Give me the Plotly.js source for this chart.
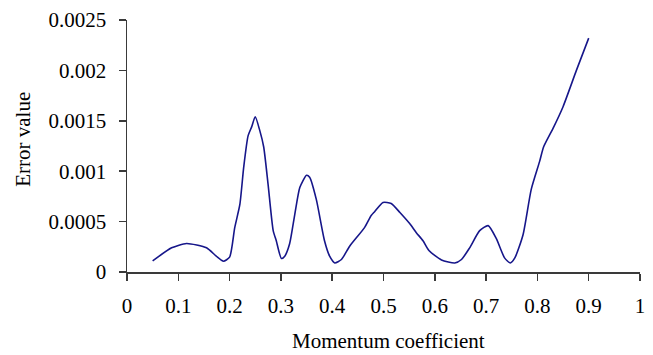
<!DOCTYPE html>
<html>
<head>
<meta charset="utf-8">
<script src="https://cdn.plot.ly/plotly-3.0.1.min.js"></script>
<style>
  html, body { margin: 0; padding: 0; background: #ffffff; }
  #chart { width: 653px; height: 355px; }
</style>
</head>
<body>
<div id="chart"></div>
<script>
// Momentum coefficient (x) and error value (y)
const momentum = [0.05, 0.087, 0.116, 0.155, 0.174, 0.188, 0.2, 0.21, 0.22, 0.2275, 0.236, 0.243, 0.25, 0.259, 0.2665, 0.275, 0.285, 0.291, 0.301, 0.3075, 0.317, 0.327, 0.337, 0.35, 0.356, 0.369, 0.385, 0.395, 0.405, 0.418, 0.434, 0.463, 0.476, 0.483, 0.499, 0.515, 0.532, 0.551, 0.564, 0.577, 0.589, 0.613, 0.639, 0.652, 0.668, 0.6875, 0.704, 0.72, 0.736, 0.747, 0.756, 0.772, 0.788, 0.8045, 0.812, 0.83, 0.85, 0.876, 0.9];
const errorValue = [0.00011, 0.00024, 0.000283, 0.00024, 0.000157, 0.000107, 0.000147, 0.00044, 0.00067, 0.00104, 0.00135, 0.00144, 0.00154, 0.0014, 0.00124, 0.00087, 0.00041, 0.00031, 0.000134, 0.000157, 0.00028, 0.00057, 0.00084, 0.00096, 0.00094, 0.00072, 0.00031, 0.000157, 0.00009, 0.000124, 0.000256, 0.00044, 0.00056, 0.0006, 0.00069, 0.00068, 0.00059, 0.00048, 0.00039, 0.00031, 0.00021, 0.00012, 0.00009, 0.000124, 0.00024, 0.00041, 0.00046, 0.00033, 0.00014, 0.00009, 0.00014, 0.00037, 0.00082, 0.0011, 0.00124, 0.00142, 0.00164, 0.002, 0.00232];

const xTickVals = [0, 0.1, 0.2, 0.3, 0.4, 0.5, 0.6, 0.7, 0.8, 0.9, 1];
const xTickText = ["0", "0.1", "0.2", "0.3", "0.4", "0.5", "0.6", "0.7", "0.8", "0.9", "1"];
const yTickVals = [0, 0.0005, 0.001, 0.0015, 0.002, 0.0025];
const yTickText = ["0", "0.0005", "0.001", "0.0015", "0.002", "0.0025"];

const xTitle = "Momentum coefficient";
const yTitle = "Error value";

const FONT = "'Liberation Serif', 'Times New Roman', 'DejaVu Serif', serif";
const AXIS_COLOR = "#3a3a3a";

const trace = {
  x: momentum,
  y: errorValue,
  type: "scatter",
  mode: "lines",
  line: { color: "#16168a", width: 1.6, shape: "spline", smoothing: 0.6 },
  hoverinfo: "x+y",
  showlegend: false
};

const layout = {
  width: 653,
  height: 355,
  margin: { l: 127, r: 13, t: 20, b: 83 },
  paper_bgcolor: "#ffffff",
  plot_bgcolor: "#ffffff",
  font: { family: FONT, size: 21, color: "#000000" },
  showlegend: false,
  xaxis: {
    range: [0, 1],
    tickmode: "array",
    tickvals: xTickVals,
    ticktext: xTickText,
    ticks: "outside",
    ticklen: 7,
    tickwidth: 1.5,
    tickcolor: AXIS_COLOR,
    ticklabelstandoff: 7,
    showline: true,
    linecolor: AXIS_COLOR,
    linewidth: 1.5,
    showgrid: false,
    zeroline: false,
    tickfont: { family: FONT, size: 21, color: "#000000" },
    fixedrange: true
  },
  yaxis: {
    range: [0, 0.0025],
    tickmode: "array",
    tickvals: yTickVals,
    ticktext: yTickText,
    ticks: "outside",
    ticklen: 7,
    tickwidth: 1.5,
    tickcolor: AXIS_COLOR,
    ticklabelstandoff: 8,
    showline: true,
    linecolor: AXIS_COLOR,
    linewidth: 1.5,
    showgrid: false,
    zeroline: false,
    tickfont: { family: FONT, size: 21, color: "#000000" },
    fixedrange: true
  },
  annotations: [
    {
      text: xTitle,
      xref: "paper", yref: "paper",
      x: 0.510, y: -0.329,
      xanchor: "center", yanchor: "bottom",
      showarrow: false,
      font: { family: FONT, size: 21, color: "#000000" }
    },
    {
      text: yTitle,
      xref: "paper", yref: "paper",
      x: -0.2015, y: 0.527,
      xanchor: "center", yanchor: "middle",
      textangle: -90,
      showarrow: false,
      font: { family: FONT, size: 21, color: "#000000" }
    }
  ]
};

Plotly.newPlot("chart", [trace], layout, { displayModeBar: false, staticPlot: true });
</script>
</body>
</html>
